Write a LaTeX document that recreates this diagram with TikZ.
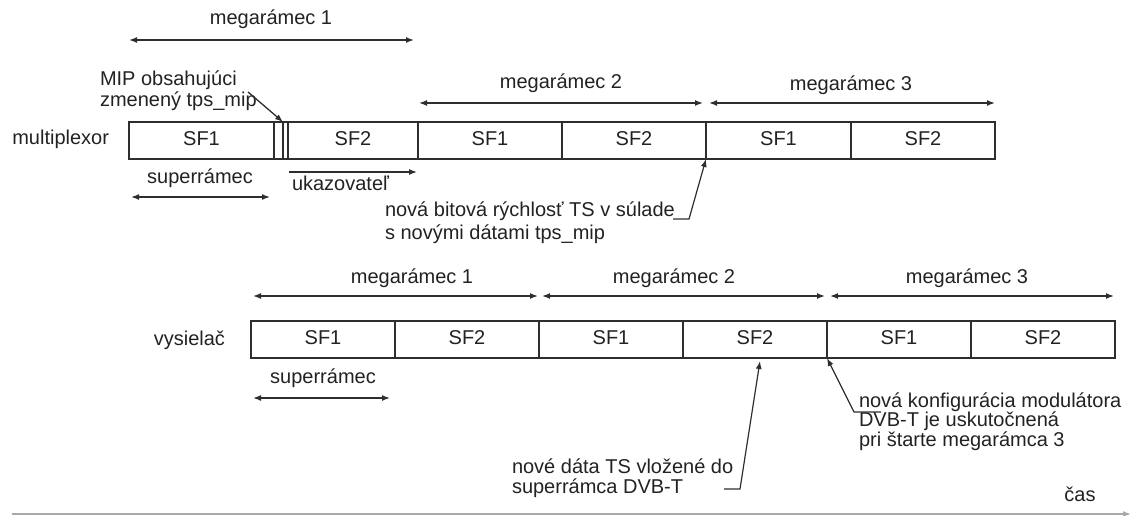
\documentclass[tikz,border=0pt]{standalone}
\usepackage{fontspec}
\setmainfont{Liberation Sans}
\usetikzlibrary{arrows.meta}
\definecolor{ink}{HTML}{222222}
\definecolor{rule}{HTML}{2E2E2E}
\definecolor{axisgray}{HTML}{A8A8A8}
\begin{document}
\begin{tikzpicture}[x=1pt,y=-1pt,
  font=\fontsize{20}{22}\selectfont,
  lbl/.style={text=ink, inner sep=0pt, outer sep=0pt, text height=14pt, text depth=4pt},
  cell/.style={lbl, draw=rule, line width=1.6pt, minimum height=37pt, minimum width=144pt},
  thin/.style={draw=rule, line width=1.6pt, inner sep=0pt, outer sep=0pt, minimum height=37pt},
  span/.style={draw=rule, line width=1.5pt, {Latex[length=8pt,width=6pt]}-{Latex[length=8pt,width=6pt]}},
  ptr/.style={draw=rule, line width=1.3pt, -{Latex[length=8pt,width=6pt]}},
  lead/.style={draw=rule, line width=1.2pt, -{Latex[length=8pt,width=6pt]}}]
\useasboundingbox (0,0) rectangle (1136,516);

% ---------------- multiplexor row ----------------
\node[lbl, anchor=east] (mux) at (109,140) {multiplexor};
\node[cell, minimum width=145pt] (mA1) at (201.5,140.5) {SF1};
\node[thin, minimum width=9pt] (mip1) at (278.5,140.5) {};
\node[thin, minimum width=5pt] (mip2) at (285.5,140.5) {};
\node[cell, minimum width=130pt] (mA2) at (353,140.5) {SF2};
\node[cell] (mB1) at (490,140.5) {SF1};
\node[cell] (mB2) at (634,140.5) {SF2};
\node[cell, minimum width=145pt] (mC1) at (778.5,140.5) {SF1};
\node[cell] (mC2) at (923,140.5) {SF2};

% megaframe spans above the multiplexor row
\node[lbl] (mm1) at (271,20) {megarámec 1};
\coordinate (mm1a) at (129,40); \coordinate (mm1b) at (414,40);
\draw[span] (mm1a) -- (mm1b);
\node[lbl] (mm2) at (561,84) {megarámec 2};
\coordinate (mm2a) at (419,103); \coordinate (mm2b) at (703,103);
\draw[span] (mm2a) -- (mm2b);
\node[lbl] (mm3) at (851,86) {megarámec 3};
\coordinate (mm3a) at (709,103); \coordinate (mm3b) at (995,103);
\draw[span] (mm3a) -- (mm3b);

% MIP note
\node[lbl, anchor=west] (mipA) at (100,81) {MIP obsahujúci};
\node[lbl, anchor=west] (mipB) at (100,102) {zmenený tps\_mip};
\coordinate (mipT) at (248,92);
\draw[ptr] (mipT) -- (mip1.north east);

% superframe and pointer below the multiplexor row
\node[lbl] (msf) at (200,179) {superrámec};
\coordinate (msfa) at (131,197); \coordinate (msfb) at (270,197);
\draw[span] (msfa) -- (msfb);
\coordinate (ukA) at (289,172); \coordinate (ukB) at (417,172);
\draw[ptr] (ukA) -- (ukB);
\node[lbl, anchor=west] (uk) at (292,186) {ukazovateľ};

% bit-rate note
\node[lbl, anchor=west] (bitA) at (385,212) {nová bitová rýchlosť TS v súlade};
\node[lbl, anchor=west] (bitB) at (385,234) {s novými dátami tps\_mip};
\coordinate (bit1) at (673,219); \coordinate (bit2) at (689,219);
\draw[lead] (bit1) -- (bit2) -- (mB2.south east);

% ---------------- transmitter row ----------------
\node[lbl, anchor=east] (tx) at (225,340) {vysielač};
\node[cell] (tA1) at (323,339.5) {SF1};
\node[cell] (tA2) at (467,339.5) {SF2};
\node[cell] (tB1) at (611,339.5) {SF1};
\node[cell] (tB2) at (755,339.5) {SF2};
\node[cell] (tC1) at (899,339.5) {SF1};
\node[cell] (tC2) at (1043,339.5) {SF2};

\node[lbl] (tm1) at (412,278) {megarámec 1};
\coordinate (tm1a) at (253,296); \coordinate (tm1b) at (538,296);
\draw[span] (tm1a) -- (tm1b);
\node[lbl] (tm2) at (674,278) {megarámec 2};
\coordinate (tm2a) at (542,296); \coordinate (tm2b) at (825,296);
\draw[span] (tm2a) -- (tm2b);
\node[lbl] (tm3) at (967,278) {megarámec 3};
\coordinate (tm3a) at (830,296); \coordinate (tm3b) at (1114,296);
\draw[span] (tm3a) -- (tm3b);

\node[lbl] (tsf) at (323,378) {superrámec};
\coordinate (tsfa) at (253,398); \coordinate (tsfb) at (390,398);
\draw[span] (tsfa) -- (tsfb);

% new data note
\node[lbl, anchor=west] (ndA) at (512,468) {nové dáta TS vložené do};
\node[lbl, anchor=west] (ndB) at (512,488) {superrámca DVB-T};
\coordinate (nd1) at (724,489); \coordinate (nd2) at (740,489); \coordinate (nd3) at (760,361);
\draw[lead] (nd1) -- (nd2) -- (nd3);

% modulator configuration note
\node[lbl, anchor=west] (mcA) at (859,402) {nová konfigurácia modulátora};
\node[lbl, anchor=west] (mcB) at (859,421) {DVB-T je uskutočnená};
\node[lbl, anchor=west] (mcC) at (859,441) {pri štarte megarámca 3};
\coordinate (mc1) at (881,412); \coordinate (mc2) at (854,412);
\draw[lead] (mc1) -- (mc2) -- (tB2.south east);

% time axis
\node[lbl] (cas) at (1080,496) {čas};
\coordinate (ax0) at (12,514); \coordinate (ax1) at (1131,514);
\draw[draw=axisgray, line width=1.5pt, -{Latex[length=8pt,width=6pt]}] (ax0) -- (ax1);
\end{tikzpicture}
\end{document}
